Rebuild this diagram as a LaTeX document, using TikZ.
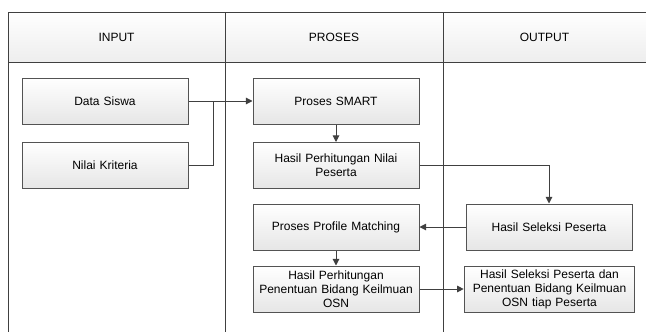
\documentclass[tikz,border=0pt]{standalone}
\usepackage{fontspec}
\setmainfont{Liberation Sans}
\usetikzlibrary{arrows.meta}
\definecolor{linegray}{HTML}{404040}
\definecolor{boxgray}{HTML}{E6E6E6}

\begin{document}
\begin{tikzpicture}[x=0.75pt, y=-0.75pt, line width=0.75pt,
    font=\fontsize{9}{10.5}\selectfont,
    box/.style = {draw=linegray!90, top color=white, bottom color=boxgray, align=center,
                  minimum width=124.5pt, minimum height=34.5pt, inner sep=1pt, text width=122pt},
    flow/.style = {draw=linegray, -{Triangle[length=5pt, width=5pt]}}]

        \useasboundingbox (0,0) rectangle (646,332);

        % swimlane frame
        \shade[top color=white, bottom color=boxgray!70] (8,12) rectangle (646,62);
        \draw[linegray] (646,12) -- (8,12) -- (8,332);
        \draw[linegray] (8,62) -- (646,62);
        \draw[linegray] (225,12) -- (225,332);
        \draw[linegray] (443,12) -- (443,332);
        \node (lin) at (116.5,37) {INPUT};
        \node (lpr) at (334,37) {PROSES};
        \node (lout) at (544.5,37) {OUTPUT};

        \node[box] (ds) at (105,101) {Data Siswa};
        \node[box] (nk) at (105,165) {Nilai Kriteria};
        \node[box] (smart) at (336,101) {Proses SMART};
        \node[box] (hpn) at (336,165.5) {Hasil Perhitungan Nilai\\Peserta};
        \node[box] (pm) at (336,227) {Proses Profile Matching};
        \node[box] (hpp) at (336,289) {Hasil Perhitungan\\Penentuan Bidang Keilmuan\\OSN};
        \node[box] (hs) at (549,227) {Hasil Seleksi Peserta};
        \node[box, minimum width=127pt, text width=126pt] (hsp) at (549.5,289) {Hasil Seleksi Peserta dan\\Penentuan Bidang Keilmuan\\OSN tiap Peserta};

        \coordinate (join) at (213,101);

        \draw[flow] (ds) -- (smart);
        \draw[linegray] (nk.east) -| (join);
        \draw[flow] (smart) -- (hpn);
        \draw[flow] (hpn.east) -| (hs.north);
        \draw[flow] (hs) -- (pm);
        \draw[flow] (pm) -- (hpp);
        \draw[flow] (hpp) -- (hsp);

    \end{tikzpicture}
\end{document}
